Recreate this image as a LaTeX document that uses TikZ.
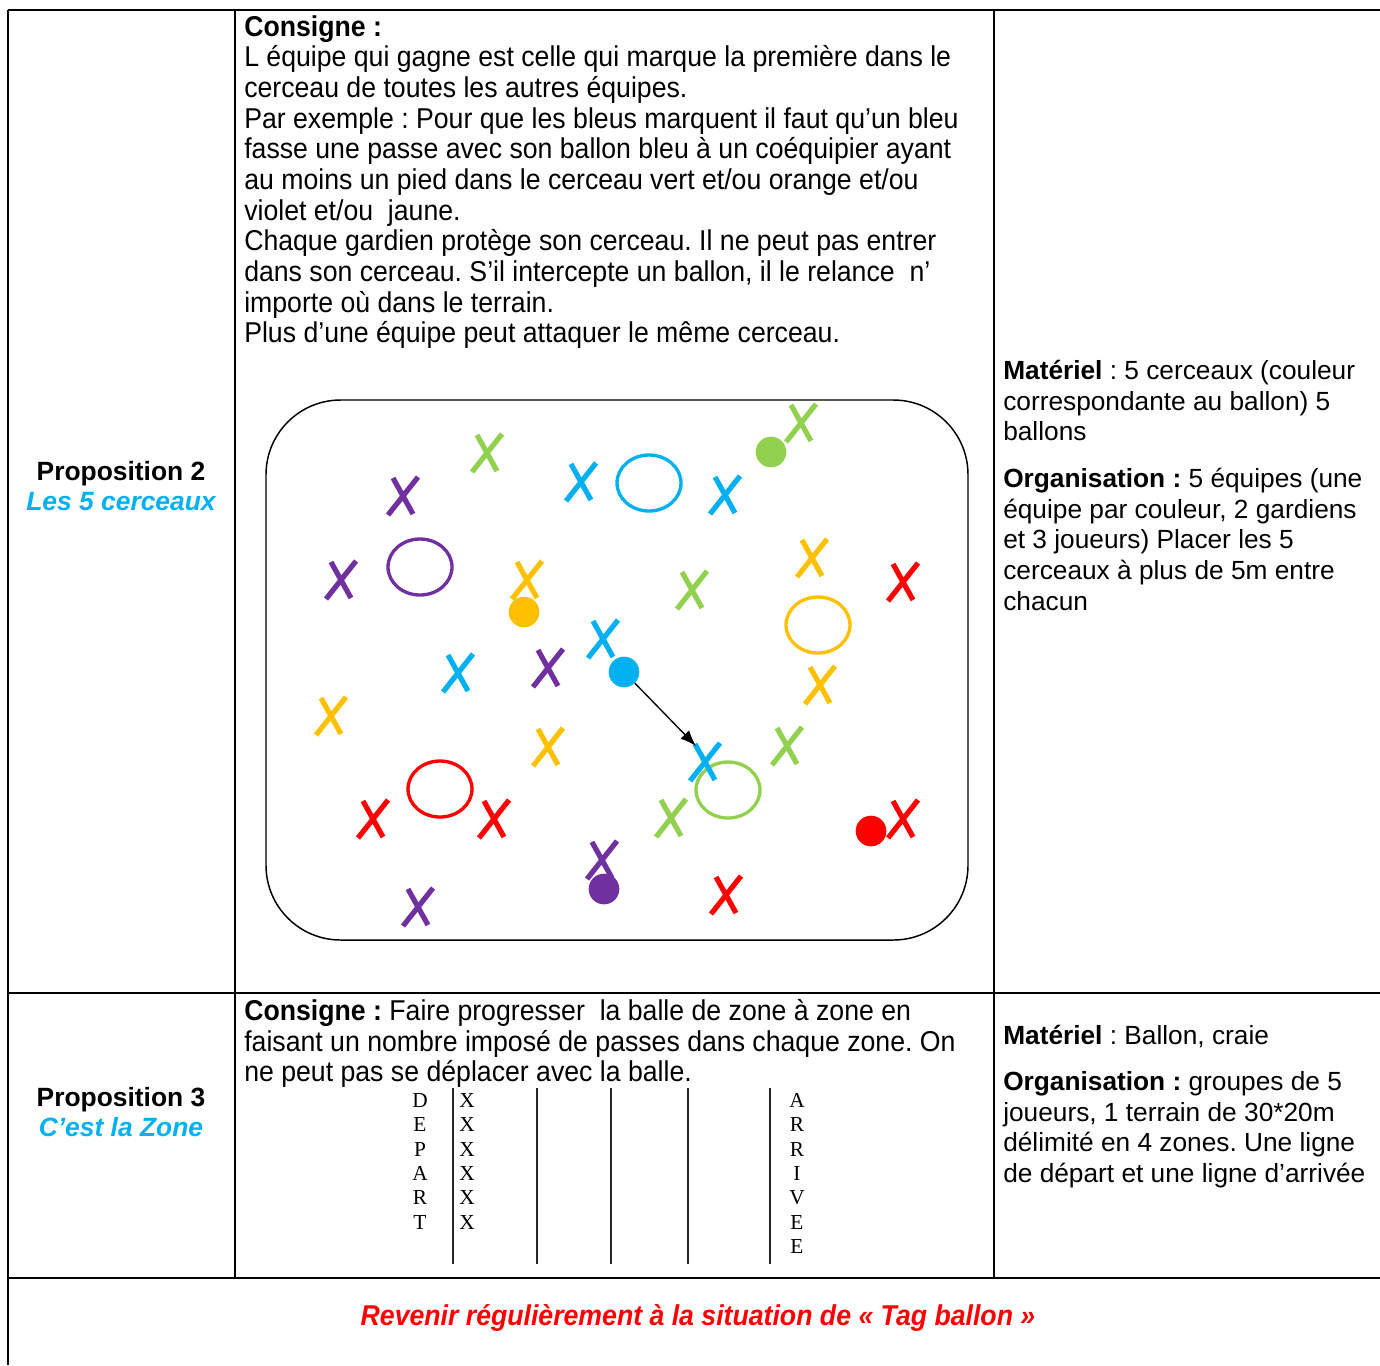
\documentclass[tikz,border=0pt]{standalone}
\usepackage{fontspec}
\setmainfont{Liberation Sans}
\newfontfamily\narrowsans[FakeStretch=0.93]{Liberation Sans}
\newfontfamily\scanserif{Liberation Serif}
\usetikzlibrary{arrows.meta}
\frenchspacing

\definecolor{vert}{RGB}{146,208,80}
\definecolor{bleu}{RGB}{0,176,240}
\definecolor{violet}{RGB}{112,48,160}
\definecolor{jaune}{RGB}{255,192,0}
\definecolor{rouge}{RGB}{255,0,0}

\tikzset{
  grille/.style={line width=1.9pt},
  cerceau/.style={line width=2.5pt},
  ballon/.style={circle,inner sep=0pt,minimum size=23pt},
  croix/.style={line width=3.9pt},
  consigne/.style={anchor=north west,align=left,inner sep=0pt,
    font=\narrowsans\fontsize{21.5}{23}\selectfont},
  materiel/.style={anchor=north west,align=left,inner sep=0pt,
    font=\fontsize{19.7}{23}\selectfont},
  titre/.style={align=center,inner sep=0pt,font=\bfseries\fontsize{19.8}{23}\selectfont},
  lettres/.style={anchor=north,align=center,inner sep=0pt,
    font=\scanserif\fontsize{16}{18.3}\selectfont}
}

\begin{document}
\begin{tikzpicture}[x=0.75pt,y=-0.75pt]
\useasboundingbox (0,0) rectangle (1380,1365);
{
% tableau
\draw[grille] (8,10)--(1380,10);
\draw[grille] (8,10)--(8,1365);
\draw[grille] (235,10)--(235,1278);
\draw[grille] (994,10)--(994,1278);
\draw[grille] (8,993)--(1380,993);
\draw[grille] (8,1278)--(1380,1278);
%
\node[titre] (prop2) at (121,486) {Proposition 2\\\textcolor{bleu}{\itshape Les 5 cerceaux}};
\node[titre] (prop3) at (121,1112) {Proposition 3\\\textcolor{bleu}{\itshape C’est la Zone}};
%
\node[consigne] (consigne2) at (244,15) {\textbf{Consigne :}\\
L équipe qui gagne est celle qui marque la première dans le\\
cerceau de toutes les autres équipes.\\
Par exemple : Pour que les bleus marquent il faut qu’un bleu\\
fasse une passe avec son ballon bleu à un coéquipier ayant\\
au moins un pied dans le cerceau vert et/ou orange et/ou\\
violet et/ou~ jaune.\\
Chaque gardien protège son cerceau. Il ne peut pas entrer\\
dans son cerceau. S’il intercepte un ballon, il le relance~ n’\\
importe où dans le terrain.\\
Plus d’une équipe peut attaquer le même cerceau.};
\node[materiel] (materiel2) at (1003,360) {\textbf{Matériel} : 5 cerceaux (couleur\\
correspondante au ballon) 5\\
ballons\\[12pt]
\textbf{Organisation :} 5 équipes (une\\
équipe par couleur, 2 gardiens\\
et 3 joueurs) Placer les 5\\
cerceaux à plus de 5m entre\\
chacun};
%
% terrain
\draw[line width=1.1pt,rounded corners=56pt] (266,400) rectangle (968,940);
\draw[cerceau,bleu] (649,483) ellipse [x radius=32,y radius=28];
\draw[cerceau,violet] (420,567) ellipse [x radius=32,y radius=28];
\draw[cerceau,jaune] (818,625) ellipse [x radius=32,y radius=28];
\draw[cerceau,rouge] (440,789) ellipse [x radius=32,y radius=28];
\draw[cerceau,vert] (728,790) ellipse [x radius=32,y radius=28];
%
\foreach \x/\y in {487/453,801/423,692/590,787/746,671/818}{
\draw[croix,vert,shift={(\x,\y)}] (-15,19)--(15,-19) (-10,-18)--(10,18);
}
\foreach \x/\y in {581/482,725/495,603/639,458/673,705/762}{
\draw[croix,bleu,shift={(\x,\y)}] (-15,19)--(15,-19) (-10,-18)--(10,18);
}
\foreach \x/\y in {403/496,341/580,548/668,602/860,418/907}{
\draw[croix,violet,shift={(\x,\y)}] (-15,19)--(15,-19) (-10,-18)--(10,18);
}
\foreach \x/\y in {527/580,812/558,820/685,331/716,548/747}{
\draw[croix,jaune,shift={(\x,\y)}] (-15,19)--(15,-19) (-10,-18)--(10,18);
}
\foreach \x/\y in {903/582,373/819,494/819,726/895,903/819}{
\draw[croix,rouge,shift={(\x,\y)}] (-15,19)--(15,-19) (-10,-18)--(10,18);
}
%
\node[ballon,fill=vert] (bvert) at (771,452) {};
\node[ballon,fill=jaune] (bjaune) at (524,612) {};
\node[ballon,fill=bleu] (bbleu) at (624,672) {};
\node[ballon,fill=rouge] (brouge) at (871,831) {};
\node[ballon,fill=violet] (bviolet) at (604,889) {};
\coordinate (passe) at (696,746);
\draw[line width=1pt,-{Latex[length=12pt,width=9pt]}] (bbleu)--(passe);
%
\node[consigne] (consigne3) at (244,999) {\textbf{Consigne :} Faire progresser~ la balle de zone à zone en\\
faisant un nombre imposé de passes dans chaque zone. On\\
ne peut pas se déplacer avec la balle.};
\node[materiel] (materiel3) at (1003,1025) {\textbf{Matériel} : Ballon, craie\\[11.5pt]
\textbf{Organisation :} groupes de 5\\
joueurs, 1 terrain de 30*20m\\
délimité en 4 zones. Une ligne\\
de départ et une ligne d’arrivée};
%
% zones
\foreach \x in {453,537,611,688,770}{
\draw[line width=1.2pt,black!85] (\x,1088)--(\x,1264);
}
\node[lettres] (depart) at (420,1093) {D\\E\\P\\A\\R\\T};
\node[lettres] (joueurs) at (467,1093) {X\\X\\X\\X\\X\\X};
\node[lettres] (arrivee) at (797,1093) {A\\R\\R\\I\\V\\E\\E};
%
\node[font=\narrowsans\bfseries\itshape\fontsize{21.5}{23}\selectfont,text=rouge] (retour) at (698,1318) {Revenir régulièrement à la situation de « Tag ballon »};
}
\end{tikzpicture}
\end{document}
